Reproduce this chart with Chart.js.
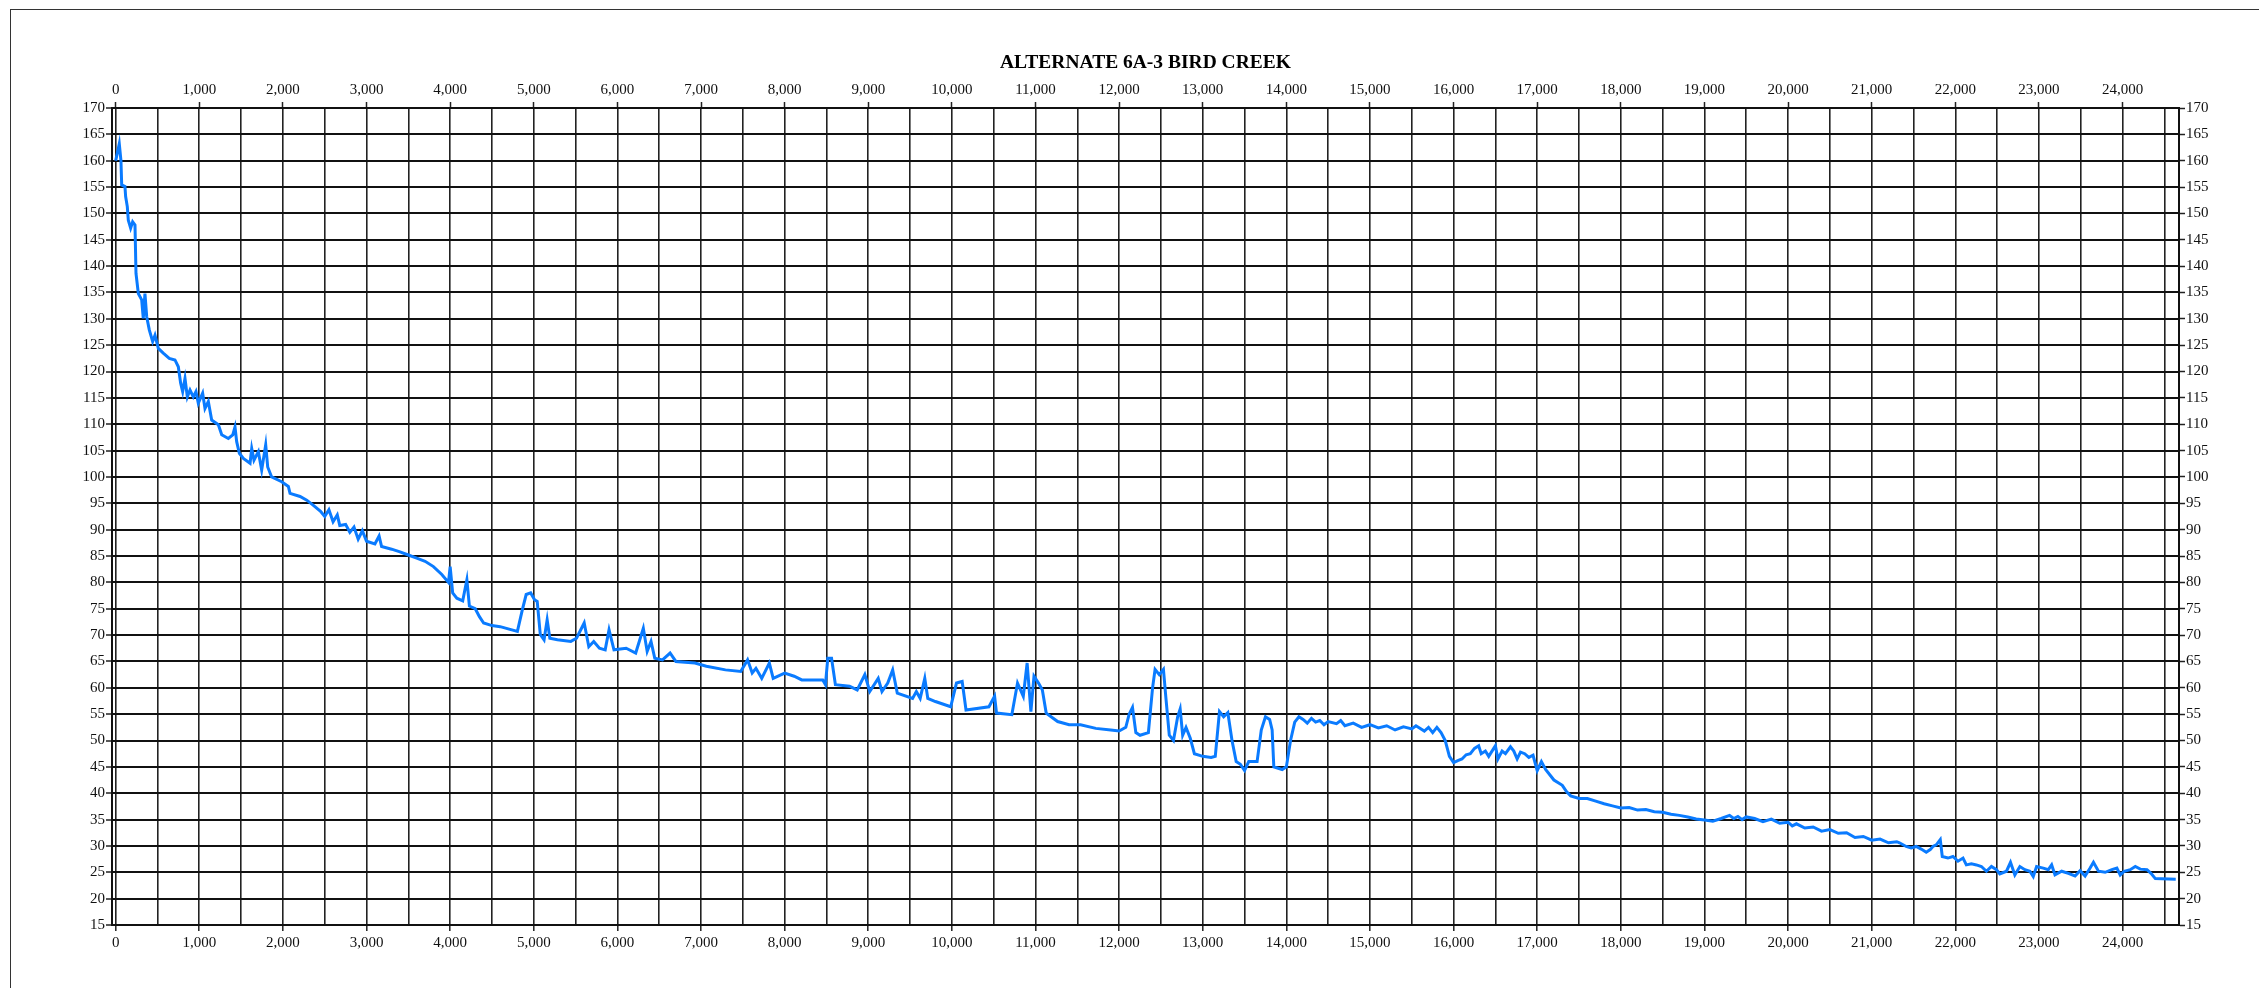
<!DOCTYPE html>
<html>
<head>
<meta charset="utf-8">
<script src="https://cdn.jsdelivr.net/npm/chart.js@4.4.1/dist/chart.umd.min.js"></script>
<style>
  html, body { margin: 0; padding: 0; background: #fff; overflow: hidden; }
  #wrap { position: relative; width: 2259px; height: 988px; }
  #frame { position: absolute; left: 10px; top: 9px; width: 2400px; height: 1100px; border: 1.5px solid #333; pointer-events: none; }
  canvas { position: absolute; left: 0; top: 0; }
</style>
</head>
<body>
<div id="wrap">
  <canvas id="c" width="2259" height="988"></canvas>
  <div id="frame"></div>
</div>
<script>
const chartTitle = 'ALTERNATE 6A-3 BIRD CREEK';

// Distance along profile
const distance = [
  0, 43, 63, 72, 111, 119, 139, 151, 179, 203, 231, 243, 271, 311, 330, 350, 371, 402, 442, 470,
  510, 569, 641, 709, 749, 777, 801, 829, 857, 889, 928, 960, 988, 1040, 1068, 1108, 1148, 1228, 1268, 1347,
  1400, 1427, 1447, 1479, 1527, 1607, 1627, 1654, 1706, 1746, 1794, 1818, 1865, 1985, 2065, 2085, 2205, 2285,
  2350, 2450, 2500, 2550, 2600, 2650, 2680, 2750, 2800, 2850, 2900, 2950, 3000, 3100, 3150, 3180, 3300, 3400,
  3500, 3600, 3700, 3800, 3900, 3980, 4000, 4030, 4080, 4150, 4200, 4230, 4300, 4350, 4400, 4500, 4598,
  4804, 4863, 4909, 4963, 5009, 5041, 5078, 5123, 5160, 5192, 5283, 5443, 5511, 5603, 5658, 5717, 5785, 5854,
  5900, 5959, 6105, 6219, 6310, 6356, 6402, 6447, 6539, 6630, 6699, 6927, 7064, 7292, 7475, 7557, 7612, 7657,
  7726, 7817, 7863, 8000, 8114, 8205, 8456, 8488, 8516, 8561, 8607, 8776, 8868, 8959, 9018, 9119, 9164, 9233,
  9292, 9347, 9530, 9575, 9621, 9676, 9712, 9803, 9986, 10055, 10123, 10169, 10443, 10511, 10534, 10717, 10785,
  10854, 10900, 10945, 10982, 11036, 11082, 11128, 11265, 11402, 11539, 11721,
  11900, 12000, 12080, 12120, 12160, 12200, 12250, 12350, 12400, 12430, 12480, 12530, 12560, 12600, 12650, 12700,
  12730, 12760, 12800, 12850, 12900, 13000, 13100, 13150, 13200, 13250, 13300, 13350, 13400, 13450, 13500, 13550,
  13650, 13700, 13750, 13800, 13830, 13850, 13950, 14000,
  14050, 14100, 14150, 14200, 14250, 14300, 14350, 14400, 14450, 14500, 14600, 14650, 14700, 14800, 14900, 15000,
  15100, 15200, 15300, 15400, 15500, 15550, 15650, 15700, 15750, 15800, 15850, 15900, 15950, 16000, 16050, 16100,
  16150, 16200, 16250, 16300, 16330, 16380, 16420, 16480, 16500, 16530, 16580, 16620, 16680, 16720, 16760, 16800,
  16850, 16900, 16950, 17000, 17050, 17100, 17150, 17200, 17300, 17350, 17400, 17500, 17600, 17700, 17800, 17900,
  18000, 18100, 18200, 18300, 18400, 18500, 18600, 18700, 18800, 18900, 19000, 19100, 19200, 19300, 19350, 19400,
  19450, 19500, 19600, 19700, 19800, 19900, 20000, 20050, 20100, 20200, 20300, 20400, 20500, 20600, 20700, 20800,
  20900, 21000, 21100, 21200, 21300,
  21332, 21412, 21472, 21532, 21592, 21652, 21700, 21732, 21772, 21820, 21844, 21912, 21972, 22032, 22092, 22132,
  22192, 22252, 22312, 22372, 22432, 22492, 22532, 22612, 22660, 22712, 22772, 22832, 22892, 22932, 22972, 23052,
  23112, 23152, 23192, 23272, 23352, 23432, 23492, 23552, 23612, 23652, 23712, 23792, 23872, 23932, 23972, 24020,
  24092, 24152, 24212, 24292, 24340, 24392, 24636
];

// Elevation values
const elevation = [
  160, 163.2, 160, 155.4, 155.1, 153.2, 151.3, 148.7, 147.2, 148.4, 147.8, 138.6, 134.8, 133.6, 130.1, 134.8, 130.4, 127.9, 125.7, 126.9,
  124.4, 123.5, 122.5, 122.2, 120.9, 117.8, 116.2, 118.7, 115.2, 116.5, 115.2, 116.2, 114.0, 115.9, 113.0, 114.3, 110.8, 109.9, 108.0, 107.3,
  108.0, 109.5, 106.7, 104.5, 103.5, 102.6, 105.4, 103.2, 104.8, 101.3, 106.1, 101.9, 100.0, 99.1, 98.2, 96.9, 96.3, 95.6,
  94.8, 93.5, 92.5, 93.8, 91.5, 92.8, 90.8, 91.0, 89.5, 90.5, 88.2, 89.8, 87.8, 87.3, 88.8, 86.8, 86.3, 85.8,
  85.2, 84.6, 84.0, 83.0, 81.5, 80.0, 83.0, 78.0, 77.0, 76.5, 80.5, 75.5, 75.0, 73.5, 72.3, 71.8, 71.6,
  70.7, 74.8, 77.7, 78.0, 76.7, 76.4, 70.1, 69.1, 72.9, 69.4, 69.1, 68.8, 69.4, 72.3, 67.8, 68.8, 67.5, 67.2,
  71.0, 67.2, 67.5, 66.6, 71.3, 66.9, 68.8, 65.6, 65.3, 66.6, 65.0, 64.7, 64.1, 63.4, 63.1, 65.3, 62.8, 63.7,
  61.8, 64.7, 61.8, 62.8, 62.2, 61.5, 61.5, 60.6, 65.6, 65.6, 60.6, 60.3, 59.6, 62.5, 59.3, 61.8, 59.3, 60.9,
  63.4, 59.0, 58.0, 59.3, 58.0, 61.8, 58.0, 57.4, 56.4, 60.9, 61.2, 55.8, 56.4, 58.4, 55.2, 54.9, 60.9,
  58.4, 64.7, 55.5, 62.2, 60.9, 59.6, 55.2, 53.6, 53.0, 53.0, 52.3,
  52.0, 51.8, 52.5, 55.0, 56.3, 51.5, 51.0, 51.5, 60.0, 63.5, 62.5, 63.5, 58.0, 51.0, 50.0, 54.5,
  56.0, 51.0, 52.5, 50.5, 47.5, 47.0, 46.8, 47.0, 55.5, 54.5, 55.3, 50.0, 46.0, 45.5, 44.3, 46.0,
  46.0, 52.0, 54.5, 54.0, 52.0, 45.0, 44.5, 45.0,
  50.0, 53.5, 54.5, 54.0, 53.3, 54.2, 53.5, 53.8, 53.0, 53.6, 53.2, 53.8, 52.8, 53.3, 52.5, 53.0,
  52.4, 52.8, 52.0, 52.6, 52.2, 52.8, 51.8, 52.5, 51.5, 52.5, 51.5, 50.0, 47.0, 45.8, 46.2, 46.5,
  47.3, 47.5, 48.5, 49.0, 47.5, 48.0, 47.0, 48.5, 49.0, 46.5, 48.0, 47.5, 48.8, 48.0, 46.5, 47.8,
  47.5, 46.8, 47.2, 44.3, 46.0, 44.5, 43.5, 42.5, 41.5, 40.3, 39.5, 39.0, 39.0, 38.5, 38.0, 37.6,
  37.2, 37.3, 36.8, 36.9, 36.5, 36.4, 36.0, 35.8, 35.5, 35.1, 34.9, 34.7, 35.2, 35.8, 35.2, 35.6,
  35.0, 35.5, 35.2, 34.6, 35.1, 34.3, 34.5, 33.8, 34.2, 33.4, 33.6, 32.8, 33.1, 32.4, 32.5, 31.6,
  31.8, 31.1, 31.3, 30.6, 30.8,
  30.6, 29.9, 29.6, 29.9, 29.4, 28.8, 29.3, 29.9, 30.2, 31.2, 28.0, 27.7, 28.0, 27.1, 27.7, 26.4,
  26.6, 26.4, 26.1, 25.2, 26.1, 25.5, 24.7, 25.2, 26.9, 24.5, 26.1, 25.5, 25.2, 24.2, 26.1, 25.8,
  25.5, 26.4, 24.5, 25.2, 24.8, 24.3, 25.3, 24.3, 25.8, 26.9, 25.2, 25.0, 25.5, 25.8, 24.5, 25.2,
  25.5, 26.1, 25.6, 25.5, 24.8, 23.8, 23.7
];

// Axis ranges and tick lists
const xMin = -44, xMax = 24675;
const xGridValues = [];   // grid line every 500, labelled every 1000
for (let v = 0; v <= 24500; v += 500) xGridValues.push(v);
const xLabelStep = 1000;
const yMin = 15, yMax = 170;
const yTickValues = [];
for (let v = 15; v <= 170; v += 5) yTickValues.push(v);

const points = distance.map((d, i) => ({ x: d, y: elevation[i] }));

const fontFamily = "'Liberation Serif', 'Times New Roman', serif";
const tickFont = () => ({ family: fontFamily, size: 15 });
const gridCol = '#222';

function fmt(v) { return String(v).replace(/\B(?=(\d{3})+(?!\d))/g, ','); }
const xTickCb = (v) => (Math.round(v) % xLabelStep === 0 ? fmt(Math.round(v)) : '');
const xTickColor = (ctx) => (ctx.tick && Math.round(ctx.tick.value) % xLabelStep === 0 ? gridCol : 'rgba(0,0,0,0)');
const setXTicks = (s) => { s.ticks = xGridValues.map(v => ({ value: v })); };
const setYTicks = (s) => { s.ticks = yTickValues.map(v => ({ value: v })); };

new Chart(document.getElementById('c'), {
  type: 'line',
  data: {
    datasets: [{
      data: points,
      borderColor: '#0a7bff',
      borderWidth: 3,
      pointRadius: 0,
      tension: 0,
      fill: false
    }]
  },
  options: {
    responsive: false,
    devicePixelRatio: 1,
    animation: false,
    layout: { padding: 0 },
    plugins: {
      legend: { display: false },
      tooltip: { enabled: false },
      title: {
        display: true,
        fullSize: false,
        text: chartTitle,
        color: '#000',
        font: { family: fontFamily, size: 19.5, weight: 'bold', lineHeight: 1.2 },
        padding: { top: 51.5, bottom: 0 }
      }
    },
    scales: {
      x: {
        type: 'linear', position: 'bottom', min: xMin, max: xMax,
        afterBuildTicks: setXTicks,
        afterFit: (s) => { s.height = 63; },
        grid: { color: gridCol, lineWidth: 1.6, tickLength: 6, tickColor: xTickColor, tickWidth: 1.5 },
        border: { display: true, color: '#111', width: 2 },
        ticks: { autoSkip: false, maxRotation: 0, minRotation: 0, callback: xTickCb, color: '#111', font: tickFont(), padding: 3 }
      },
      x2: {
        type: 'linear', position: 'top', min: xMin, max: xMax,
        afterBuildTicks: setXTicks,
        afterFit: (s) => { s.height = 33.1; },
        grid: { drawOnChartArea: false, tickLength: 6, tickColor: xTickColor, tickWidth: 1.5 },
        border: { display: true, color: '#111', width: 2 },
        ticks: { autoSkip: false, maxRotation: 0, minRotation: 0, callback: xTickCb, color: '#111', font: tickFont(), padding: 3 }
      },
      y: {
        type: 'linear', position: 'left', min: yMin, max: yMax,
        afterBuildTicks: setYTicks,
        afterFit: (s) => { s.width = 112; },
        grid: { color: '#111', lineWidth: 2, tickLength: 6, tickColor: gridCol, tickWidth: 1.5 },
        border: { display: true, color: '#111', width: 2 },
        ticks: { autoSkip: false, color: '#111', font: tickFont(), padding: 1 }
      },
      y2: {
        type: 'linear', position: 'right', min: yMin, max: yMax,
        afterBuildTicks: setYTicks,
        afterFit: (s) => { s.width = 80; },
        grid: { drawOnChartArea: false, tickLength: 6, tickColor: gridCol, tickWidth: 1.5 },
        border: { display: true, color: '#111', width: 2 },
        ticks: { autoSkip: false, color: '#111', font: tickFont(), padding: 1 }
      }
    }
  }
});
</script>
</body>
</html>
